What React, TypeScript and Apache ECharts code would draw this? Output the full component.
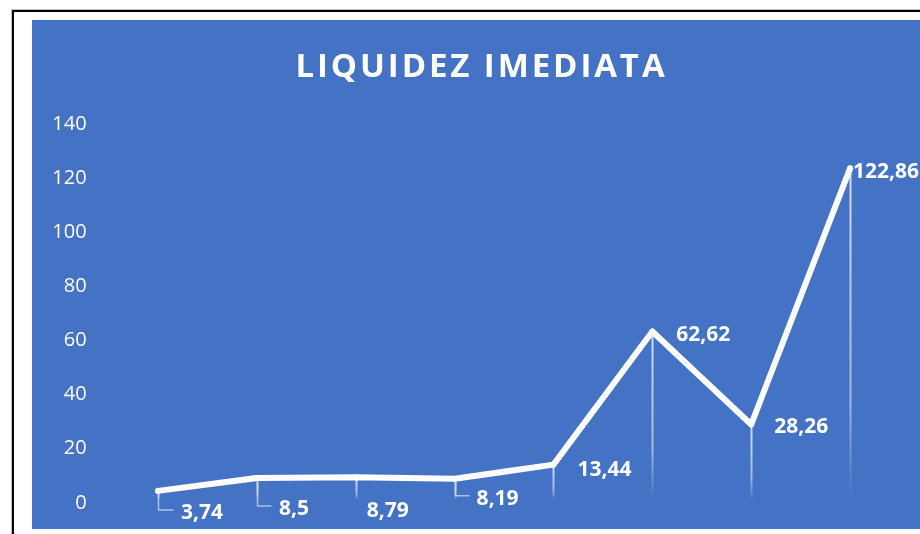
import React, { useEffect, useRef } from "react";
import * as echarts from "echarts";

const title = "LIQUIDEZ IMEDIATA";
const categories = ["P1", "P2", "P3", "P4", "P5", "P6", "P7", "P8"];
const values = [3.74, 8.5, 8.79, 8.19, 13.44, 62.62, 28.26, 122.86];
const yMin = 0;
const yMax = 140;
const yInterval = 20;

// label placement (pixel offsets from the point), and whether a leader line is drawn
const labelOffsets: [number, number][] = [
  [23, 20],
  [22, 29],
  [11, 32],
  [22, 18],
  [24, 3],
  [24, 2],
  [23, 1],
  [3, 2],
];
const leaders = [true, true, false, true, false, false, false, false];

const fmt = (v: number) => String(v).replace(".", ",");

export default function App() {
  const ref = useRef<HTMLDivElement>(null);
  useEffect(() => {
    if (!ref.current) return;
    const chart = echarts.init(ref.current, undefined, { renderer: "svg" });
    const W = 920;
    const H = 534;
    const option: any = {
      animation: false,
      graphic: [
        { type: "rect", z: -30, shape: { x: 0, y: 0, width: W, height: H }, style: { fill: "#ffffff" } },
        { type: "line", z: -29, shape: { x1: 11.5, y1: 9.5, x2: 11.5, y2: H }, style: { stroke: "#bdbdbd", lineWidth: 1 } },
        { type: "line", z: -29, shape: { x1: 11.5, y1: 9.5, x2: W, y2: 9.5 }, style: { stroke: "#bdbdbd", lineWidth: 1 } },
        { type: "line", z: -28, shape: { x1: 13, y1: 10, x2: 13, y2: H }, style: { stroke: "#000000", lineWidth: 2 } },
        { type: "line", z: -28, shape: { x1: 12, y1: 11, x2: W, y2: 11 }, style: { stroke: "#000000", lineWidth: 2 } },
        { type: "rect", z: -27, shape: { x: 32, y: 20, width: W - 32, height: 509 }, style: { fill: "#4472C4" } },
        {
          type: "text",
          z: 10,
          x: 481.5,
          y: 64,
          style: {
            text: title,
            fill: "#ffffff",
            font: "bold 33px 'Open Sans'",
            align: "center",
            verticalAlign: "middle",
          },
        },
      ],
      grid: { left: 108.6, top: 122, width: 790.9, height: 379, containLabel: false },
      xAxis: {
        type: "category",
        data: categories,
        boundaryGap: true,
        axisLine: { show: false },
        axisTick: { show: false },
        axisLabel: { show: false },
        splitLine: { show: false },
      },
      yAxis: {
        type: "value",
        min: yMin,
        max: yMax,
        interval: yInterval,
        axisLine: { show: false },
        axisTick: { show: false },
        splitLine: { show: false },
        axisLabel: {
          color: "#ffffff",
          fontFamily: "Open Sans",
          fontSize: 20,
          margin: 22,
        },
      },
      series: [
        {
          type: "custom",
          z: 1,
          data: values.map((v, i) => [i, v]),
          encode: { x: 0, y: 1 },
          renderItem: (params: any, api: any) => {
            const i = params.dataIndex;
            const top = api.coord([api.value(0), api.value(1)]);
            const bottom = api.coord([api.value(0), 0]);
            const x = Math.round(top[0]) + 0.5;
            const children: any[] = [
              {
                type: "line",
                shape: { x1: x, y1: top[1], x2: x, y2: bottom[1] - 1 },
                style: {
                  stroke: new echarts.graphic.LinearGradient(
                    0, top[1], 0, bottom[1] - 1,
                    [
                      { offset: 0, color: "rgba(255,255,255,0.75)" },
                      { offset: 0.7, color: "rgba(255,255,255,0.5)" },
                      { offset: 1, color: "rgba(255,255,255,0)" },
                    ],
                    true
                  ),
                  lineWidth: 2,
                },
              },
            ];
            if (leaders[i]) {
              const [dx, dy] = labelOffsets[i];
              children.push({
                type: "polyline",
                shape: {
                  points: [
                    [x, top[1] + 4],
                    [x, top[1] + dy - 1],
                    [x + dx - 8, top[1] + dy - 1],
                  ],
                },
                style: { stroke: "rgba(210,220,240,0.75)", lineWidth: 1.5, fill: "none" },
              });
            }
            return { type: "group", children };
          },
        },
        {
          type: "line",
          z: 5,
          data: values.map((v, i) => ({
            value: v,
            label: { offset: [labelOffsets[i][0] - 3, labelOffsets[i][1]] },
          })),
          symbol: "circle",
          symbolSize: 6,
          showSymbol: true,
          itemStyle: { color: "#ffffff" },
          lineStyle: { color: "#ffffff", width: 6, join: "round", cap: "round" },
          label: {
            show: true,
            position: "right",
            distance: 0,
            color: "#ffffff",
            fontFamily: "Open Sans",
            fontWeight: "bold",
            fontSize: 21,
            formatter: (p: any) => fmt(p.value),
          },
        },
      ],
    };
    chart.setOption(option);
    // spread the title's letters like the reference
    const texts = ref.current.querySelectorAll("text");
    texts.forEach((t) => {
      if (t.textContent === title) {
        t.setAttribute("letter-spacing", "2.9px");
      }
    });
    return () => chart.dispose();
  }, []);
  return (
    <div
      ref={ref}
      style={{ position: "fixed", left: 0, top: 0, width: 920, height: 534 }}
    />
  );
}
